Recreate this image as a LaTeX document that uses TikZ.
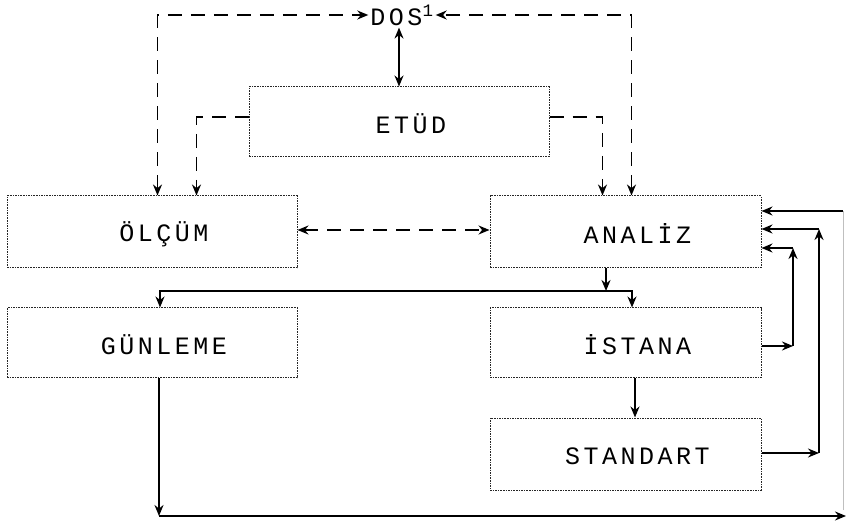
\documentclass[tikz,border=0pt]{standalone}
\usepackage{fontspec}
\usetikzlibrary{arrows.meta}
\newfontfamily\pf[LetterSpace=14]{Liberation Mono}
\tikzset{
  box/.style={draw=black!85, dash pattern=on 1.6pt off 1pt, line width=1pt, inner sep=0pt},
  lbl/.style={font=\pf\fontsize{25}{25}\selectfont, xshift=12pt, yshift=-2pt},
  tip/.tip={Stealth[length=11pt,width=9pt]},
  sol/.style={line width=2pt, -tip},
  dsh/.style={line width=1.5pt, dash pattern=on 14pt off 9pt, tip-tip},
  dsh1/.style={line width=1.5pt, dash pattern=on 14pt off 9pt, -tip},
}
\begin{document}
\begin{tikzpicture}[x=1pt,y=-1pt]
\useasboundingbox (0,0) rectangle (846,526);
% boxes
\node[box, minimum width=300pt, minimum height=70pt, label={[lbl]center:ETÜD}] (etud) at (399,122) {};
\node[box, minimum width=290pt, minimum height=72pt, label={[lbl]center:ÖLÇÜM}] (olcum) at (152,232) {};
\node[box, minimum width=271pt, minimum height=72pt, label={[lbl]center:ANALİZ}] (analiz) at (625.5,232) {};
\node[box, minimum width=290pt, minimum height=70pt, label={[lbl]center:GÜNLEME}] (gunleme) at (152,343) {};
\node[box, minimum width=271pt, minimum height=70pt, label={[lbl]center:İSTANA}] (istana) at (625.5,343) {};
\node[box, minimum width=271pt, minimum height=72pt, label={[lbl]center:STANDART}] (standart) at (625.5,454) {};
\node[font=\pf\fontsize{25}{25}\selectfont, inner sep=2pt] (dos) at (402,15) {DOS\textsuperscript{1}};
% DOS connections
\draw[dsh] ([xshift=151pt]olcum.north west) |- (dos.west);
\draw[dsh] ([xshift=142pt]analiz.north west) |- (dos.east);
\draw[line width=1.6pt, tip-tip] (etud.north |- dos.south) -- (etud.north);
% ETUD outputs
\draw[dsh1] ([yshift=5pt]etud.west) -| ([xshift=190pt]olcum.north west);
\draw[dsh1] ([yshift=5pt]etud.east) -| ([xshift=113pt]analiz.north west);
% OLCUM <-> ANALIZ
\draw[dsh] ([yshift=2pt]olcum.east) -- ([yshift=2pt]analiz.west);
% ANALIZ down
\coordinate (j) at (606,291);
\draw[sol] ([xshift=-19.5pt]analiz.south) -- (j);
\draw[sol] (j) -| ([xshift=8pt]gunleme.north);
\draw[sol] (j) -| ([xshift=6.5pt]istana.north);
\draw[sol] ([xshift=9.5pt]istana.south) -- ([xshift=9.5pt]standart.north);
% GUNLEME loop
\coordinate (bl) at (159,516);
\coordinate (br) at (846,516);
\coordinate (tr) at (843,211);
\draw[sol] ([xshift=7pt]gunleme.south) -- (bl);
\draw[sol] (bl) -- (br);
\draw[line width=0.5pt, black!25] (843,510) -- (tr);
\draw[sol] (tr) -- ([yshift=21pt]analiz.east);
% ISTANA loop
\coordinate (c1) at (793,346);
\coordinate (c2) at (793,248);
\draw[sol] ([yshift=-3pt]istana.east) -- (c1);
\draw[sol] (c1) -- (c2);
\draw[sol] (c2) -- ([yshift=-16pt]analiz.east);
% STANDART loop
\coordinate (d1) at (819,453);
\coordinate (d2) at (819,229);
\draw[sol] ([yshift=1pt]standart.east) -- (d1);
\draw[sol] (d1) -- (d2);
\draw[sol] (d2) -- ([yshift=3pt]analiz.east);
\end{tikzpicture}
\end{document}
